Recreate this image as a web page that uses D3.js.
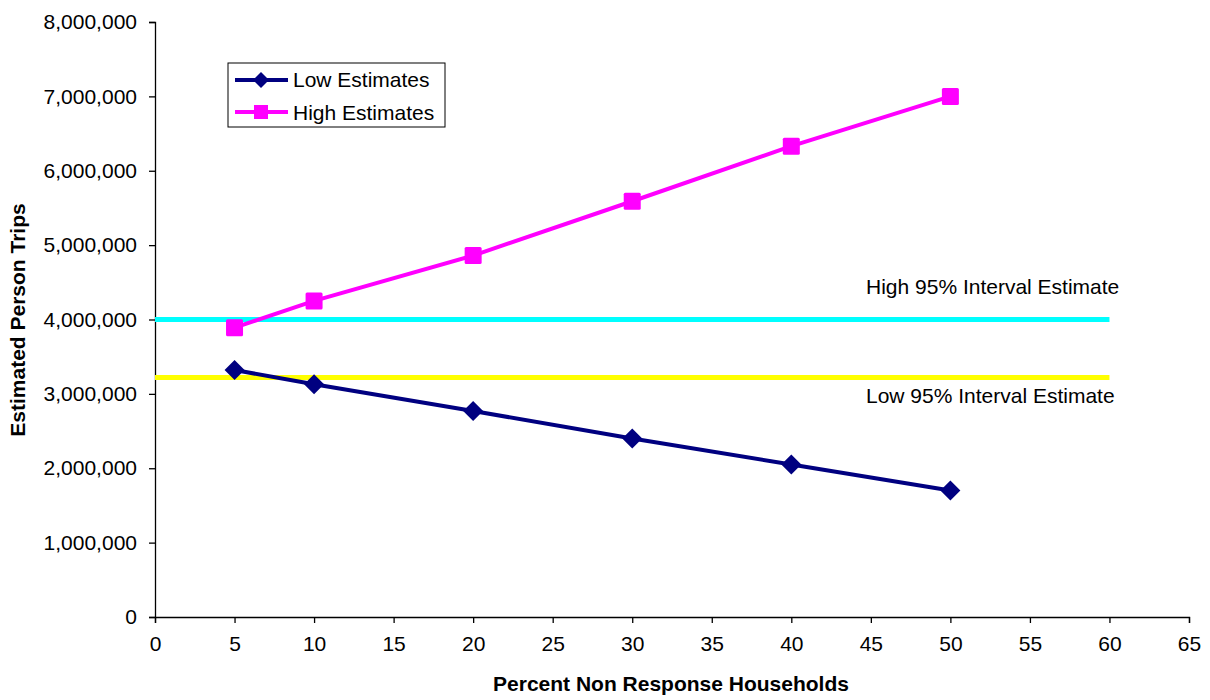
<!DOCTYPE html>
<html><head><meta charset="utf-8">
<script src="https://cdn.jsdelivr.net/npm/d3@7"></script>
<style>body{margin:0;background:#fff;}svg{display:block;font-family:"Liberation Sans",Arial,sans-serif;}</style>
</head><body>
<svg id="c" width="1210" height="700"></svg>
<script>
const xValues = [5, 10, 20, 30, 40, 50];
const lowEstimates = [3320000, 3130000, 2770000, 2400000, 2050000, 1700000];
const highEstimates = [3890000, 4250000, 4860000, 5590000, 6330000, 7000000];
const highInterval = 4000000;
const lowInterval = 3220000;
const intervalRange = [0, 60];
const xTicks = [0,5,10,15,20,25,30,35,40,45,50,55,60,65];
const yTicks = [0,1000000,2000000,3000000,4000000,5000000,6000000,7000000,8000000];

const FS = 21;
const svg = d3.select("#c");
const x = d3.scaleLinear().domain([0,65]).range([155,1189]);
const y = d3.scaleLinear().domain([0,8000000]).range([617,22]);

// axes
const xAxis = svg.append("g").attr("transform","translate(0,617)")
  .call(d3.axisBottom(x).tickValues(xTicks).tickSize(6).tickPadding(10).tickFormat(d3.format("d")));
const yAxis = svg.append("g").attr("transform","translate(155,0)")
  .call(d3.axisLeft(y).tickValues(yTicks).tickSize(6).tickPadding(12).tickFormat(d3.format(",")));
[xAxis,yAxis].forEach(g=>{
  g.attr("font-size",FS).attr("font-family","Liberation Sans, Arial, sans-serif");
  g.selectAll("text").attr("fill","#000");
  g.selectAll("line,path").attr("stroke","#000").attr("stroke-width",1.3);
});
xAxis.selectAll("text").attr("dy","0.85em");

// interval lines
svg.append("line").attr("x1",x(intervalRange[0])).attr("x2",x(intervalRange[1]))
  .attr("y1",y(highInterval)).attr("y2",y(highInterval)).attr("stroke","#00ffff").attr("stroke-width",5);
svg.append("line").attr("x1",x(intervalRange[0])).attr("x2",x(intervalRange[1]))
  .attr("y1",y(lowInterval)).attr("y2",y(lowInterval)).attr("stroke","#ffff00").attr("stroke-width",5);

svg.append("text").attr("x",866).attr("y",294).attr("font-size",FS).text("High 95% Interval Estimate");
svg.append("text").attr("x",866).attr("y",403).attr("font-size",FS).text("Low 95% Interval Estimate");

const line = d3.line().x(d=>x(d[0])).y(d=>y(d[1]));
const lowData = xValues.map((v,i)=>[v,lowEstimates[i]]);
const highData = xValues.map((v,i)=>[v,highEstimates[i]]);

svg.append("path").datum(highData).attr("d",line).attr("fill","none").attr("stroke","#ff00ff").attr("stroke-width",4);
svg.append("path").datum(lowData).attr("d",line).attr("fill","none").attr("stroke","#000080").attr("stroke-width",4);

const sq = 17;
svg.selectAll(".hm").data(highData).enter().append("rect")
  .attr("x",d=>x(d[0])-sq/2).attr("y",d=>y(d[1])-sq/2).attr("width",sq).attr("height",sq).attr("rx",1.5)
  .attr("fill","#ff00ff");
const dm = 10;
svg.selectAll(".lm").data(lowData).enter().append("path")
  .attr("d",d=>{const cx=x(d[0]),cy=y(d[1]);return `M${cx},${cy-dm}L${cx+dm},${cy}L${cx},${cy+dm}L${cx-dm},${cy}Z`;})
  .attr("fill","#000080");

// legend
const lg = svg.append("g");
lg.append("rect").attr("x",228).attr("y",63).attr("width",217).attr("height",64).attr("fill","#fff").attr("stroke","#000").attr("stroke-width",1);
lg.append("line").attr("x1",235).attr("x2",288).attr("y1",80).attr("y2",80).attr("stroke","#000080").attr("stroke-width",4);
lg.append("path").attr("d","M261,72L269,80L261,88L253,80Z").attr("fill","#000080");
lg.append("text").attr("x",293).attr("y",87).attr("font-size",FS).text("Low Estimates");
lg.append("line").attr("x1",235).attr("x2",288).attr("y1",112).attr("y2",112).attr("stroke","#ff00ff").attr("stroke-width",4);
lg.append("rect").attr("x",254).attr("y",105).attr("width",14).attr("height",14).attr("fill","#ff00ff");
lg.append("text").attr("x",293).attr("y",120).attr("font-size",FS).text("High Estimates");

// axis titles
svg.append("text").attr("x",671).attr("y",691).attr("text-anchor","middle").attr("font-size",FS).attr("font-weight","bold")
  .text("Percent Non Response Households");
svg.append("text").attr("transform","translate(25,320) rotate(-90)").attr("text-anchor","middle").attr("font-size",FS).attr("font-weight","bold")
  .text("Estimated Person Trips");
</script>
</body></html>
